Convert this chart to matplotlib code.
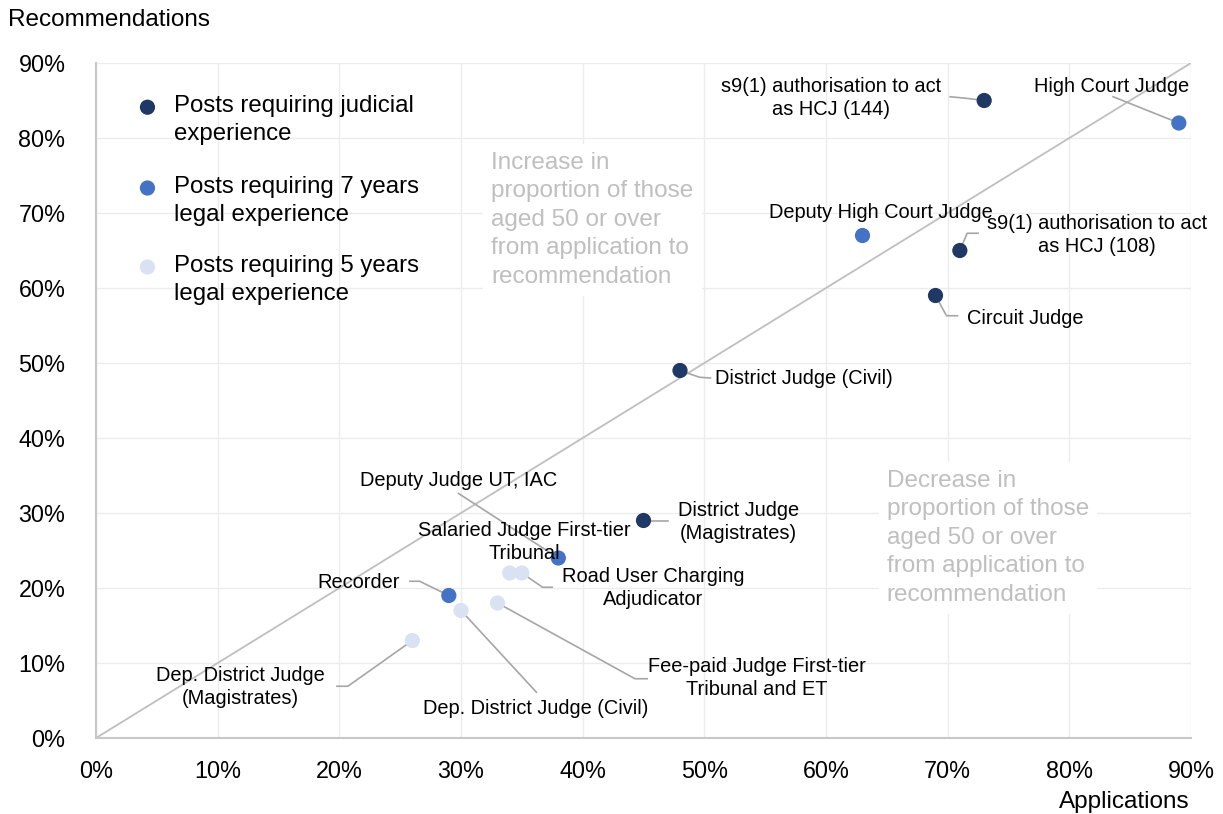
import matplotlib
matplotlib.use("Agg")
import matplotlib.pyplot as plt
from matplotlib.ticker import PercentFormatter

plt.rcParams['font.family'] = ['Liberation Sans', 'DejaVu Sans']

# Data (percent of those aged 50 or over)
posts = [
    "s9(1) authorisation to act\nas HCJ (144)",
    "s9(1) authorisation to act\nas HCJ (108)",
    "Circuit Judge",
    "District Judge (Civil)",
    "District Judge\n(Magistrates)",
    "High Court Judge",
    "Deputy High Court Judge",
    "Deputy Judge UT, IAC",
    "Recorder",
    "Salaried Judge First-tier\nTribunal",
    "Road User Charging\nAdjudicator",
    "Fee-paid Judge First-tier\nTribunal and ET",
    "Dep. District Judge (Civil)",
    "Dep. District Judge\n(Magistrates)",
]
applications = [73, 71, 69, 48, 45, 89, 63, 38, 29, 34, 35, 33, 30, 26]
recommendations = [85, 65, 59, 49, 29, 82, 67, 24, 19, 22, 22, 18, 17, 13]
requirement = [0, 0, 0, 0, 0, 1, 1, 1, 1, 2, 2, 2, 2, 2]

group_names = ["Posts requiring judicial\nexperience",
               "Posts requiring 7 years\nlegal experience",
               "Posts requiring 5 years\nlegal experience"]
group_colors = ["#1f3864", "#4472c4", "#d9e2f3"]

# label placement: text centre (x, y) and leader line points towards the marker
label_pos = {
    0: ((60.4, 85.3), [(70.2, 85.5), (71.5, 85.3)]),
    1: ((82.3, 67.1), [(72.5, 67.3), (71.6, 67.3)]),
    2: ((76.4, 56.0), [(70.8, 56.3), (69.9, 56.3)]),
    3: ((58.2, 47.9), [(50.5, 48.0), (49.6, 48.1)]),
    4: ((52.8, 28.8), [(47.0, 29.0), (45.6, 29.0)]),
    5: ((83.5, 86.8), [(83.6, 85.5)]),
    6: ((64.5, 70.1), []),
    7: ((29.8, 34.4), [(29.8, 32.6)]),
    8: ((21.6, 20.8), [(25.8, 20.9), (26.6, 20.9)]),
    9: ((35.2, 26.1), []),
    10: ((45.8, 20.0), [(37.5, 20.1), (36.7, 20.1)]),
    11: ((54.3, 8.0), [(45.3, 7.9), (44.3, 7.9)]),
    12: ((36.1, 3.9), [(36.2, 6.1)]),
    13: ((11.9, 6.8), [(19.8, 6.9), (20.7, 6.9)]),
}

fig = plt.figure(figsize=(12.23, 8.14), dpi=100)
ax = fig.add_axes([96 / 1223, 1 - 738 / 814, (1191 - 96) / 1223, (738 - 63) / 814])

ax.set_xlim(0, 90)
ax.set_ylim(0, 90)
ax.set_xticks(range(0, 91, 10))
ax.set_yticks(range(0, 91, 10))
ax.xaxis.set_major_formatter(PercentFormatter(decimals=0))
ax.yaxis.set_major_formatter(PercentFormatter(decimals=0))
ax.tick_params(length=0, labelsize=16.8, colors="#000000")
ax.tick_params(axis="y", pad=22)
ax.tick_params(axis="x", pad=16)
ax.grid(True, color="#ececec", linewidth=1)
ax.set_axisbelow(True)
for side in ["top", "right"]:
    ax.spines[side].set_visible(False)
for side in ["left", "bottom"]:
    ax.spines[side].set_color("#c8c8c8")
    ax.spines[side].set_linewidth(1.5)

# equal proportion line
ax.axline((0, 0), slope=1, color="#bfbfbf", linewidth=1.3, zorder=1)

# grey explanatory boxes
box = dict(facecolor="white", edgecolor="none", pad=6)
note = "proportion of those\naged 50 or over\nfrom application to\nrecommendation"
ax.text(32.5, 69.1, "Increase in\n" + note,
        fontsize=17.5, color="#bfbfbf", ha="left", va="center", linespacing=1.38,
        bbox=box, zorder=2)
ax.text(65.0, 26.7, "Decrease in\n" + note,
        fontsize=17.5, color="#bfbfbf", ha="left", va="center", linespacing=1.38,
        bbox=box, zorder=2)

# points, 5 years drawn first so the darker series sit on top
for g in [2, 1, 0]:
    xs = [a for a, r in zip(applications, requirement) if r == g]
    ys = [b for b, r in zip(recommendations, requirement) if r == g]
    ax.scatter(xs, ys, s=120, color=group_colors[g], edgecolors="none", zorder=4)

# labels and leader lines
for i, name in enumerate(posts):
    (tx, ty), path = label_pos[i]
    ax.text(tx, ty, name, fontsize=14.4, ha="center", va="center",
            multialignment="center", linespacing=1.27, zorder=5)
    if path:
        lx = [p[0] for p in path] + [applications[i]]
        ly = [p[1] for p in path] + [recommendations[i]]
        ax.plot(lx, ly, color="#a6a6a6", linewidth=1.2, zorder=3)

# legend drawn by hand to keep the marker on the first text line
leg_y = [0.9345, 0.8148, 0.6978]
for g, name in enumerate(group_names):
    ax.scatter([0.047], [leg_y[g]], s=120, color=group_colors[g], edgecolors="none",
               transform=ax.transAxes, clip_on=False, zorder=5)
    ax.text(0.071, leg_y[g] + 0.018, name, transform=ax.transAxes, fontsize=17.3,
            ha="left", va="top", linespacing=1.37, zorder=5)

fig.text(8 / 1223, 1 - 20 / 814, "Recommendations", fontsize=17.5, ha="left", va="center")
fig.text(1190 / 1223, 1 - 802 / 814, "Applications", fontsize=17.5, ha="right", va="center")

fig.savefig("out.png", dpi=100)
